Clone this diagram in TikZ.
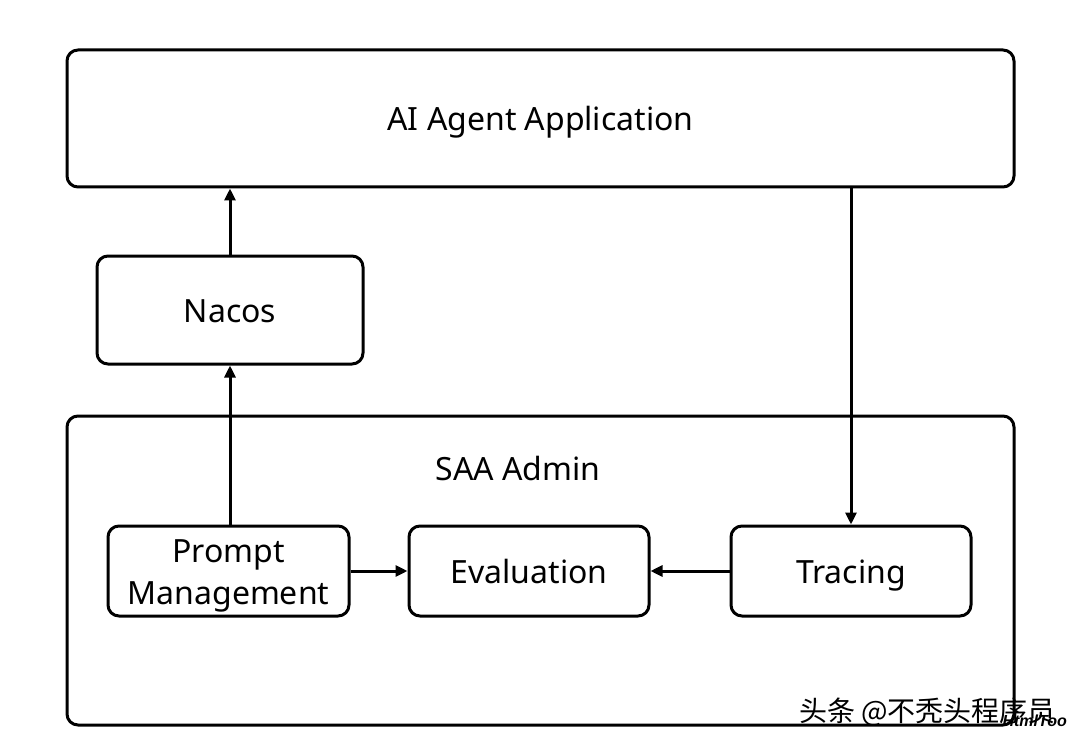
\documentclass[tikz,border=0pt]{standalone}
\usepackage{fontspec}
\setmainfont{Noto Sans}
\newfontfamily\cjk{Noto Sans CJK SC}
\newfontfamily\wmfont{Liberation Sans}
\usetikzlibrary{arrows.meta}
\begin{document}
\begin{tikzpicture}[x=1pt,y=-1pt,
  box/.style={draw=black,line width=3pt,rounded corners=11pt,inner sep=0pt,align=center,font=\fontsize{32}{42}\selectfont},
  one/.style={text height=25pt,text depth=0pt},
  conn/.style={line width=3pt,-{Triangle[length=12pt,width=11pt]}}]
\useasboundingbox (0,0) rectangle (1080,749);
\fill[white] (0,0) rectangle (1080,749);
\node[box,one,minimum width=947pt,minimum height=137pt] (app) at (540.5,118.5) {AI Agent Application};
\node[box,one,minimum width=266pt,minimum height=108pt] (nacos) at (230,310) {Nacos};
\node[box,minimum width=947pt,minimum height=309pt] (saa) at (540.5,570.5) {};
\node[font=\fontsize{32}{42}\selectfont,text height=25pt,text depth=0pt,inner sep=0pt] (saalbl) at (518,468) {SAA Admin};
\node[box,text height=66pt,text depth=0pt,minimum width=241pt,minimum height=90pt] (prompt) at (228.5,571) {Prompt\\Management};
\node[box,one,minimum width=240pt,minimum height=90pt] (eval) at (529,571) {Evaluation};
\node[box,one,minimum width=240pt,minimum height=90pt] (trace) at (851,571) {Tracing};
\draw[conn] (nacos.north) -- (nacos.north |- app.south);
\draw[conn] (prompt.north -| nacos.south) -- (nacos.south);
\draw[conn] (app.south -| trace.north) -- (trace.north);
\draw[conn] (prompt.east) -- (eval.west);
\draw[conn] (trace.west) -- (eval.east);
\node[anchor=south east,inner sep=0pt,font=\cjk\fontsize{28}{30}\selectfont,text=black] (wm) at (1056,727) {头条 @不秃头程序员};
\node[anchor=north east,inner sep=0pt,font=\wmfont\bfseries\itshape\fontsize{16}{17}\selectfont] (wm2) at (1067,715) {HtmlToo};
\end{tikzpicture}
\end{document}
